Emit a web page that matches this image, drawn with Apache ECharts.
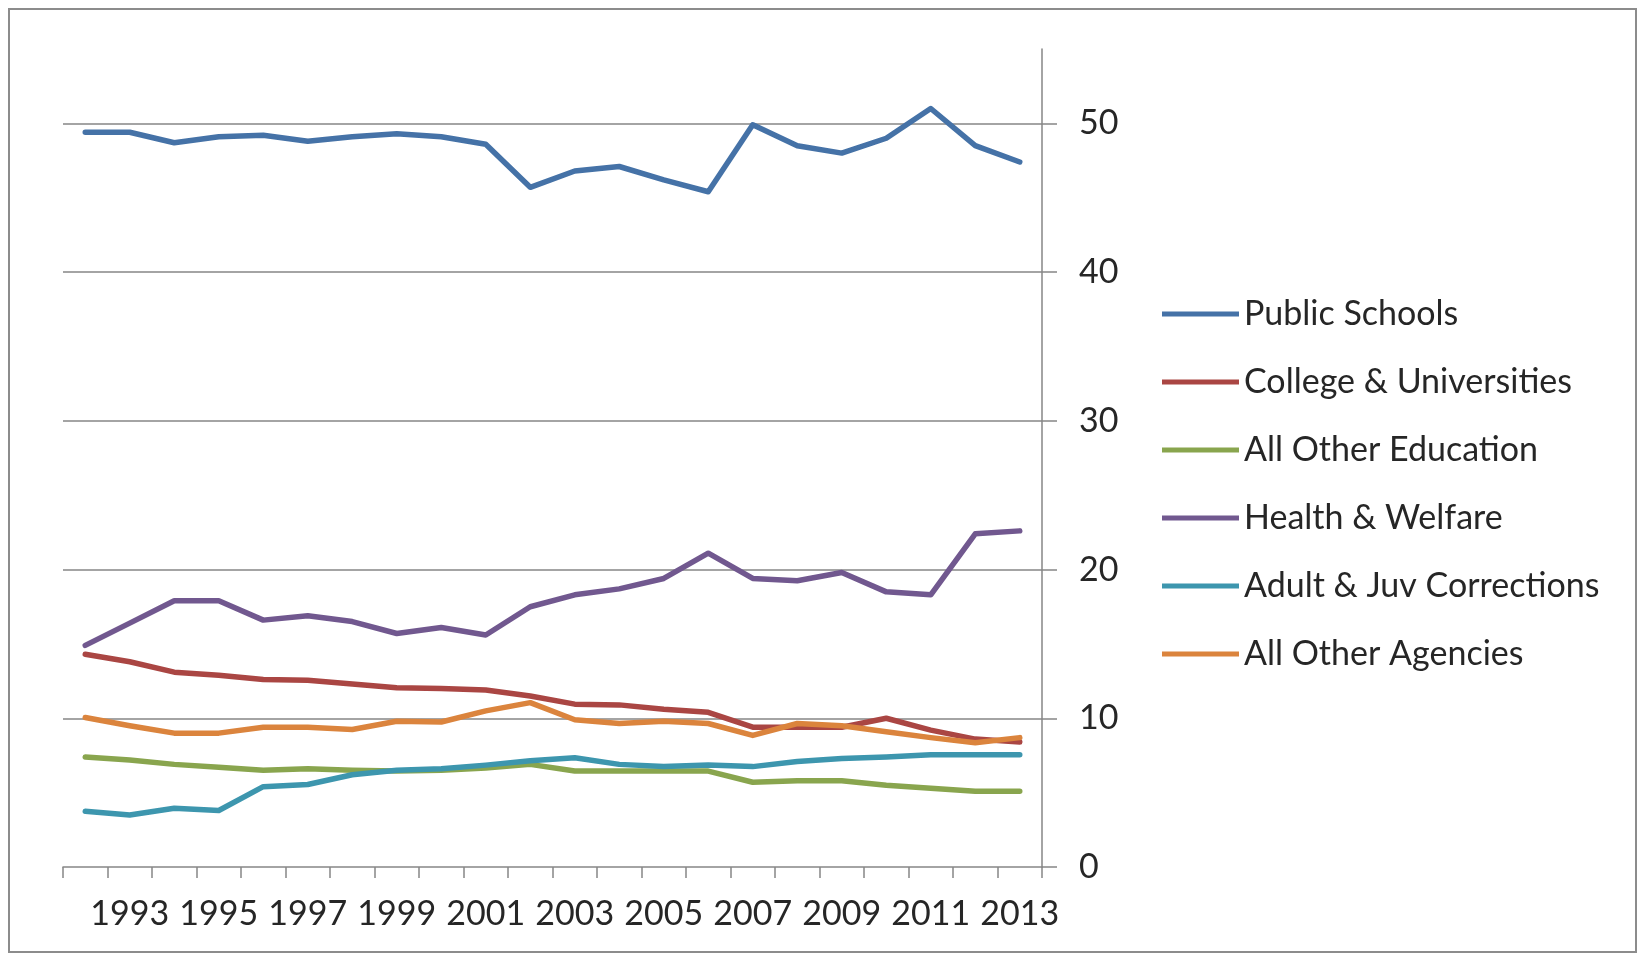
<!DOCTYPE html>
<html>
<head>
<meta charset="utf-8">
<script src="https://cdn.jsdelivr.net/npm/echarts@6/dist/echarts.min.js"></script>
<style>
html,body{margin:0;padding:0;background:#fff;}
#chart{width:1638px;height:955px;}
</style>
</head>
<body>
<div id="chart"></div>
<script>
const years = ['1992','1993','1994','1995','1996','1997','1998','1999','2000','2001','2002','2003','2004','2005','2006','2007','2008','2009','2010','2011','2012','2013'];
const seriesNames = ['Public Schools','College & Universities','All Other Education','Health & Welfare','Adult & Juv Corrections','All Other Agencies'];
const publicSchools = [49.4,49.4,48.7,49.1,49.2,48.8,49.1,49.3,49.1,48.6,45.7,46.8,47.1,46.2,45.4,49.9,48.5,48.0,49.0,51.0,48.5,47.4];
const colleges = [14.3,13.8,13.1,12.9,12.6,12.55,12.3,12.05,12.0,11.9,11.5,10.95,10.9,10.6,10.4,9.4,9.4,9.4,10.0,9.2,8.6,8.4];
const otherEducation = [7.4,7.2,6.9,6.7,6.5,6.6,6.5,6.45,6.5,6.65,6.9,6.45,6.45,6.45,6.45,5.7,5.8,5.8,5.5,5.3,5.1,5.1];
const healthWelfare = [14.9,16.4,17.9,17.9,16.6,16.9,16.5,15.7,16.1,15.6,17.5,18.3,18.7,19.4,21.1,19.4,19.25,19.8,18.5,18.3,22.4,22.6];
const corrections = [3.75,3.5,3.95,3.8,5.4,5.55,6.2,6.5,6.6,6.85,7.15,7.35,6.9,6.75,6.85,6.75,7.1,7.3,7.4,7.55,7.55,7.55];
const otherAgencies = [10.05,9.5,9.0,9.0,9.4,9.4,9.25,9.8,9.75,10.5,11.05,9.9,9.65,9.8,9.65,8.85,9.65,9.5,9.1,8.7,8.35,8.7];
const yTickValues = [0,10,20,30,40,50];
const yRange = {min: 0, max: 55, interval: 10};

const colors = ['#4572A7','#AA4643','#89A54E','#71588F','#3D96AE','#DB843D'];
const values = [publicSchools, colleges, otherEducation, healthWelfare, corrections, otherAgencies];
const FONT = 'Lato, Roboto, "Open Sans", sans-serif';
const GRID_GRAY = '#868686';

const chart = echarts.init(document.getElementById('chart'), null, {renderer:'canvas'});
chart.setOption({
  animation: false,
  backgroundColor: '#fff',
  color: colors,
  textStyle: {fontFamily: FONT},
  graphic: [{
    type: 'rect',
    shape: {x: 9, y: 9, width: 1627, height: 943},
    style: {fill: 'none', stroke: '#8c8c8c', lineWidth: 2},
    silent: true
  }],
  grid: {left: 63, right: 596, top: 49, bottom: 88, containLabel: false},
  legend: {
    orient: 'vertical',
    left: 1157,
    top: 289,
    icon: 'rect',
    itemWidth: 77,
    itemHeight: 5,
    itemGap: 28,
    textStyle: {fontFamily: FONT, fontSize: 34, color: '#262626', lineHeight: 40},
    data: seriesNames
  },
  xAxis: {
    type: 'category',
    data: years,
    boundaryGap: true,
    axisLine: {show: true, lineStyle: {color: GRID_GRAY, width: 1.5}},
    axisTick: {show: true, interval: 0, length: 11, lineStyle: {color: GRID_GRAY, width: 1.5}},
    axisLabel: {
      interval: function (idx) { return idx % 2 === 1; },
      fontFamily: FONT, fontSize: 34, color: '#262626', margin: 30
    },
    splitLine: {show: false}
  },
  yAxis: {
    type: 'value',
    position: 'right',
    min: yRange.min, max: yRange.max, interval: yRange.interval,
    axisLine: {show: true, lineStyle: {color: GRID_GRAY, width: 1.5}},
    axisTick: {show: true, length: 15, customValues: yTickValues, lineStyle: {color: GRID_GRAY, width: 1.5}},
    axisLabel: {
      fontFamily: FONT, fontSize: 34, color: '#262626', margin: 37,
      customValues: yTickValues
    },
    splitLine: {show: false}
  },
  series: seriesNames.map(function (name, i) {
    const s = {
      name: name,
      type: 'line',
      data: values[i],
      symbol: 'none',
      smooth: false,
      z: 3,
      lineStyle: {width: 5.5, color: colors[i], join: 'round', cap: 'round'},
      itemStyle: {color: colors[i]}
    };
    if (i === 0) {
      s.markLine = {
        silent: true,
        symbol: ['none', 'none'],
        label: {show: false},
        z: 1,
        lineStyle: {color: GRID_GRAY, width: 1.5, type: 'solid'},
        emphasis: {disabled: true},
        data: yTickValues.filter(function (v) { return v > 0; }).map(function (v) { return {yAxis: v}; })
      };
    }
    return s;
  })
});
</script>
</body>
</html>
